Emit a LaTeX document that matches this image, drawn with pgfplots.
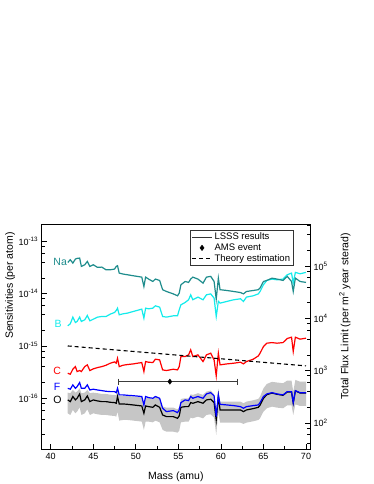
\documentclass[border=0pt]{standalone}
\usepackage{pgfplots}
\pgfplotsset{compat=1.18}
\usepackage{pgfplotstable}
\usepackage{fontspec}
\setmainfont{Liberation Sans}
\definecolor{naC}{RGB}{30,140,140}
\definecolor{bC}{RGB}{20,235,235}
\definecolor{bandC}{RGB}{198,198,198}
\definecolor{ebC}{RGB}{60,60,60}

\pgfplotstableread{
x Na B C F O
42.0 3.95e-14 2.43e-15 3.01e-16 1.55e-16 9.30e-17
42.3 4.45e-14 2.65e-15 2.88e-16 1.49e-16 8.63e-17
42.6 3.84e-14 3.56e-15 3.59e-16 1.80e-16 1.08e-16
42.9 4.58e-14 2.81e-15 4.03e-16 1.55e-16 9.30e-17
43.1 4.72e-14 2.94e-15 3.24e-16 1.67e-16 1.00e-16
43.4 4.79e-14 3.56e-15 3.39e-16 2.00e-16 1.21e-16
43.6 3.32e-14 2.94e-15 3.24e-16 1.55e-16 8.63e-17
44.0 3.57e-14 3.16e-15 4.03e-16 1.55e-16 9.30e-17
44.3 4.13e-14 3.83e-15 4.35e-16 1.80e-16 1.11e-16
44.6 3.32e-14 3.02e-15 3.39e-16 1.44e-16 8.63e-17
45.0 3.57e-14 3.25e-15 3.65e-16 1.49e-16 9.30e-17
45.5 3.18e-14 3.56e-15 3.86e-16 1.44e-16 8.89e-17
46.0 3.22e-14 3.66e-15 4.03e-16 1.40e-16 8.63e-17
46.5 2.86e-14 3.66e-15 4.28e-16 1.36e-16 8.63e-17
47.0 2.86e-14 4.06e-15 4.68e-16 1.34e-16 8.38e-17
47.5 2.95e-14 4.37e-15 4.96e-16 1.34e-16 8.26e-17
47.7 3.32e-14 4.77e-15 4.68e-16 1.28e-16 8.02e-17
47.85 3.42e-14 5.28e-15 5.83e-16 1.55e-16 1.08e-16
48.05 2.47e-14 3.94e-15 4.03e-16 1.16e-16 7.79e-17
48.5 2.37e-14 4.12e-15 4.28e-16 1.16e-16 7.79e-17
49.0 2.30e-14 4.24e-15 4.41e-16 1.14e-16 7.67e-17
49.7 2.20e-14 4.56e-15 4.54e-16 1.12e-16 7.45e-17
50.7 2.07e-14 5.06e-15 4.82e-16 1.08e-16 7.13e-17
50.95 1.37e-14 3.40e-15 3.24e-16 7.45e-17 5.16e-17
51.15 2.07e-14 5.28e-15 5.03e-16 1.08e-16 7.13e-17
51.5 1.90e-14 5.13e-15 4.89e-16 1.03e-16 6.92e-17
52.0 1.71e-14 5.28e-15 4.82e-16 1.00e-16 6.72e-17
52.3 1.90e-14 5.86e-15 5.58e-16 1.08e-16 7.45e-17
52.8 1.79e-14 5.52e-15 5.42e-16 1.00e-16 6.72e-17
53.15 1.19e-14 3.66e-15 3.49e-16 6.44e-17 4.80e-17
53.6 1.10e-14 3.56e-15 3.39e-16 5.56e-17 4.46e-17
54.4 9.9e-15 3.77e-15 3.59e-16 5.81e-17 4.46e-17
54.9 9.1e-15 3.77e-15 3.49e-16 5.32e-17 4.14e-17
55.1 1.02e-14 4.91e-15 4.03e-16 5.98e-17 4.59e-17
55.3 1.48e-14 6.12e-15 6.28e-16 8.26e-17 6.72e-17
55.8 1.71e-14 6.79e-15 6.28e-16 9.30e-17 6.92e-17
56.2 1.64e-14 7.64e-15 6.76e-16 9.02e-17 6.92e-17
56.45 1.90e-14 9.5e-15 8.42e-16 1.08e-16 8.26e-17
56.7 2.07e-14 7.64e-15 6.28e-16 1.00e-16 8.02e-17
57.3 1.90e-14 8.59e-15 6.76e-16 1.08e-16 8.63e-17
57.9 1.59e-14 7.64e-15 5.03e-16 1.00e-16 8.02e-17
58.3 2.07e-14 9.5e-15 6.76e-16 1.21e-16 9.30e-17
58.8 2.14e-14 9.9e-15 7.27e-16 1.28e-16 9.57e-17
59.2 1.71e-14 8.22e-15 5.42e-16 1.11e-16 8.26e-17
59.45 7.86e-15 3.66e-15 2.68e-16 4.46e-17 3.85e-17
59.7 1.98e-14 7.10e-15 7.27e-16 1.16e-16 1.08e-16
59.9 1.19e-14 6.59e-15 4.35e-16 7.67e-17 5.98e-17
60.7 1.15e-14 7.10e-15 4.54e-16 7.45e-17 5.98e-17
61.5 1.10e-14 7.64e-15 4.68e-16 7.24e-17 5.98e-17
62.3 1.05e-14 7.98e-15 4.89e-16 6.92e-17 5.98e-17
62.65 9.9e-15 7.10e-15 4.54e-16 6.44e-17 5.56e-17
63.0 1.10e-14 8.59e-15 5.03e-16 6.92e-17 5.98e-17
63.8 1.15e-14 9.10e-15 5.58e-16 7.24e-17 6.34e-17
64.4 1.19e-14 9.9e-15 6.46e-16 7.45e-17 6.72e-17
64.6 1.28e-14 1.10e-14 7.27e-16 8.26e-17 7.35e-17
65.0 1.71e-14 1.48e-14 9.75e-16 1.08e-16 1.00e-16
65.4 1.79e-14 1.79e-14 1.13e-15 1.21e-16 1.17e-16
66.0 1.98e-14 1.90e-14 1.16e-15 1.28e-16 1.26e-16
66.6 1.90e-14 1.84e-14 1.13e-15 1.21e-16 1.19e-16
67.3 1.79e-14 1.90e-14 1.16e-15 1.16e-16 1.14e-16
67.8 2.14e-14 2.30e-14 1.39e-15 1.34e-16 1.32e-16
68.3 1.71e-14 2.47e-14 1.47e-15 1.34e-16 1.32e-16
68.5 1.10e-14 1.59e-14 7.84e-16 8.26e-17 8.10e-17
68.75 1.98e-14 2.55e-14 1.47e-15 1.40e-16 1.38e-16
69.3 1.71e-14 2.40e-14 1.35e-15 1.28e-16 1.26e-16
70.0 1.64e-14 2.55e-14 1.41e-15 1.28e-16 1.26e-16
}\data

% uncertainty band of O: upper edge 42->70, then lower edge 70->42
\pgfplotstableread{
x y
42.0 1.28e-16
42.3 1.25e-16
42.6 1.44e-16
42.9 1.28e-16
43.1 1.34e-16
43.4 1.55e-16
43.6 1.25e-16
44.0 1.28e-16
44.3 1.44e-16
44.6 1.25e-16
45.0 1.28e-16
45.5 1.25e-16
46.0 1.21e-16
46.5 1.21e-16
47.0 1.17e-16
47.5 1.16e-16
47.7 1.14e-16
47.85 1.44e-16
48.05 1.12e-16
48.5 1.12e-16
49.0 1.11e-16
49.7 1.08e-16
50.7 1.04e-16
50.95 7.45e-17
51.15 1.04e-16
51.5 1.01e-16
52.0 9.86e-17
52.3 1.08e-16
52.8 9.86e-17
53.15 6.92e-17
53.6 6.62e-17
54.4 6.62e-17
54.9 6.15e-17
55.1 6.72e-17
55.3 9.71e-17
55.8 1.00e-16
56.2 1.00e-16
56.45 1.19e-16
56.7 1.16e-16
57.3 1.25e-16
57.9 1.16e-16
58.3 1.34e-16
58.8 1.40e-16
59.2 1.19e-16
59.45 5.56e-17
59.7 1.55e-16
59.9 8.63e-17
60.7 8.63e-17
61.5 8.63e-17
62.3 8.63e-17
62.65 8.02e-17
63.0 8.63e-17
63.8 9.16e-17
64.4 9.71e-17
64.6 1.08e-16
65.0 1.55e-16
65.4 1.88e-16
66.0 2.06e-16
66.6 2.00e-16
67.3 1.94e-16
67.8 2.18e-16
68.3 2.18e-16
68.5 1.34e-16
68.75 2.24e-16
69.3 2.08e-16
70.0 2.08e-16
70.0 7.13e-17
69.3 7.13e-17
68.75 7.67e-17
68.5 4.80e-17
68.3 7.35e-17
67.8 7.35e-17
67.3 6.44e-17
66.6 6.62e-17
66.0 6.92e-17
65.4 6.44e-17
65.0 5.56e-17
64.6 4.14e-17
64.4 3.85e-17
63.8 3.63e-17
63.0 3.42e-17
62.65 3.23e-17
62.3 3.42e-17
61.5 3.42e-17
60.7 3.42e-17
59.9 3.42e-17
59.7 5.56e-17
59.45 1.99e-17
59.2 4.27e-17
58.8 4.94e-17
58.3 4.80e-17
57.9 4.14e-17
57.3 4.46e-17
56.7 4.14e-17
56.45 4.27e-17
56.2 3.58e-17
55.8 3.58e-17
55.3 3.47e-17
55.1 2.40e-17
54.9 2.20e-17
54.4 2.30e-17
53.6 2.30e-17
53.15 2.48e-17
52.8 3.47e-17
52.3 3.74e-17
52.0 3.47e-17
51.5 3.58e-17
51.15 3.58e-17
50.95 2.48e-17
50.7 3.58e-17
49.7 3.74e-17
49.0 3.85e-17
48.5 3.85e-17
48.05 3.74e-17
47.85 5.56e-17
47.7 4.46e-17
47.5 4.59e-17
47.0 4.66e-17
46.5 4.80e-17
46.0 4.80e-17
45.5 4.94e-17
45.0 5.16e-17
44.6 4.80e-17
44.3 6.15e-17
44.0 5.16e-17
43.6 4.80e-17
43.4 6.72e-17
43.1 5.56e-17
42.9 5.16e-17
42.6 5.98e-17
42.3 4.80e-17
42.0 5.16e-17
}\band

\newcommand{\lblfont}{\fontsize{10.5bp}{12bp}\selectfont}
\newcommand{\tckfont}{\fontsize{9bp}{10bp}\selectfont}

\begin{document}
\begin{tikzpicture}
\path[use as bounding box] (0,0) rectangle (374bp,484bp);
\begin{axis}[
  at={(41.7bp,34.7bp)}, anchor=south west,
  scale only axis, width=268.3bp, height=224.6bp,
  xmin=38.94, xmax=70.47,
  ymode=log, ymin=1.057e-17, ymax=2.08e-13,
  xtick={40,45,...,70}, minor x tick num=1,
  ytick={1e-16,1e-15,1e-14,1e-13},
  yticklabels={10\textsuperscript{-16},10\textsuperscript{-15},10\textsuperscript{-14},10\textsuperscript{-13}},
  minor ytick={2e-17,4e-17,6e-17,8e-17,2e-16,4e-16,6e-16,8e-16,2e-15,4e-15,6e-15,8e-15,2e-14,4e-14,6e-14,8e-14},
  xtick pos=left, ytick pos=left,
  tick align=inside,
  major tick length=5bp, minor tick length=3bp,
  axis line style={line width=0.9bp},
  every tick/.style={black, line width=0.7bp},
  /pgf/number format/assume math mode=true,
  ticklabel style={font=\tckfont},
  xlabel={Mass (amu)},
  ylabel={Sensitivities (per atom)},
  xlabel style={font=\lblfont, at={(axis description cs:0.5,-0.122)}, anchor=center},
  ylabel style={font=\lblfont, at={(axis description cs:-0.118,0.729)}, anchor=center, rotate=0},
  legend style={at={(axis description cs:0.938,0.978)}, anchor=north east,
     font=\fontsize{9.5bp}{11bp}\selectfont, draw=black!80, line width=0.6bp,
     inner sep=1bp, row sep=-1.5bp, cells={anchor=west}},
  legend image code/.code={\draw[mark repeat=2,mark phase=2,#1] plot coordinates {(0bp,0bp) (10bp,0bp) (20bp,0bp)};},
]
\addplot[fill=bandC, draw=none, forget plot] table[x=x, y=y] {\band};
\addplot[black, line width=1.2bp, forget plot] table[x=x, y=O] {\data};
\addplot[blue, line width=1.2bp, forget plot] table[x=x, y=F] {\data};
\addplot[red, line width=1.2bp, forget plot] table[x=x, y=C] {\data};
\addplot[bC, line width=1.2bp, forget plot] table[x=x, y=B] {\data};
\addplot[naC, line width=1.2bp, forget plot] table[x=x, y=Na] {\data};
\addplot[black, line width=1.1bp, dash pattern=on 4bp off 3bp, forget plot] coordinates {(42,1.0e-15) (70,4.16e-16)};
% AMS event: 54 amu, range 48-62 amu
\addplot[ebC, line width=0.9bp, forget plot] coordinates {(48,2.08e-16) (62,2.08e-16)};
\addplot[ebC, only marks, mark=|, mark size=3bp, mark options={line width=0.9bp}, forget plot] coordinates {(48,2.08e-16) (62,2.08e-16)};
\addplot[black, only marks, mark=diamond*, mark size=2.6bp, forget plot] coordinates {(54,2.08e-16)};
\addlegendimage{black!80, line width=1.1bp}
\addlegendentry{LSSS results}
\addlegendimage{only marks, mark=diamond*, mark size=2.6bp, black}
\addlegendentry{AMS event}
\addlegendimage{black, line width=1.1bp, dash pattern=on 4bp off 3bp}
\addlegendentry{Theory estimation}
\node[anchor=west, text=naC, font=\lblfont, inner sep=0pt] at (axis cs:40.3,4.0e-14) {Na};
\node[anchor=west, text=bC, font=\lblfont, inner sep=0pt] at (axis cs:40.45,2.7e-15) {B};
\node[anchor=west, text=red, font=\lblfont, inner sep=0pt] at (axis cs:40.3,3.39e-16) {C};
\node[anchor=west, text=blue, font=\lblfont, inner sep=0pt] at (axis cs:40.35,1.67e-16) {F};
\node[anchor=west, text=black, font=\lblfont, inner sep=0pt] at (axis cs:40.3,9.3e-17) {O};
\end{axis}
\begin{axis}[
  at={(41.7bp,34.7bp)}, anchor=south west,
  scale only axis, width=268.3bp, height=224.6bp,
  xmin=38.94, xmax=70.47,
  axis x line=none, axis y line*=right,
  ymode=log, ymin=31.3, ymax=6.18e5,
  ytick={1e2,1e3,1e4,1e5},
  yticklabels={10\textsuperscript{2},10\textsuperscript{3},10\textsuperscript{4},10\textsuperscript{5}},
  minor ytick={40,60,80,200,400,600,800,2000,4000,6000,8000,20000,40000,60000,80000,200000,400000,600000},
  tick align=inside,
  major tick length=5bp, minor tick length=3bp,
  axis line style={line width=0.9bp},
  every tick/.style={black, line width=0.7bp},
  ticklabel style={font=\tckfont},
  ylabel={Total Flux Limit (per m\textsuperscript{2} year sterad)},
  ylabel style={font=\lblfont, at={(axis description cs:1.130,0.591)}, anchor=center, rotate=0},
]
\addplot[draw=none, forget plot] coordinates {(50,1000)};
\end{axis}
\end{tikzpicture}
\end{document}
